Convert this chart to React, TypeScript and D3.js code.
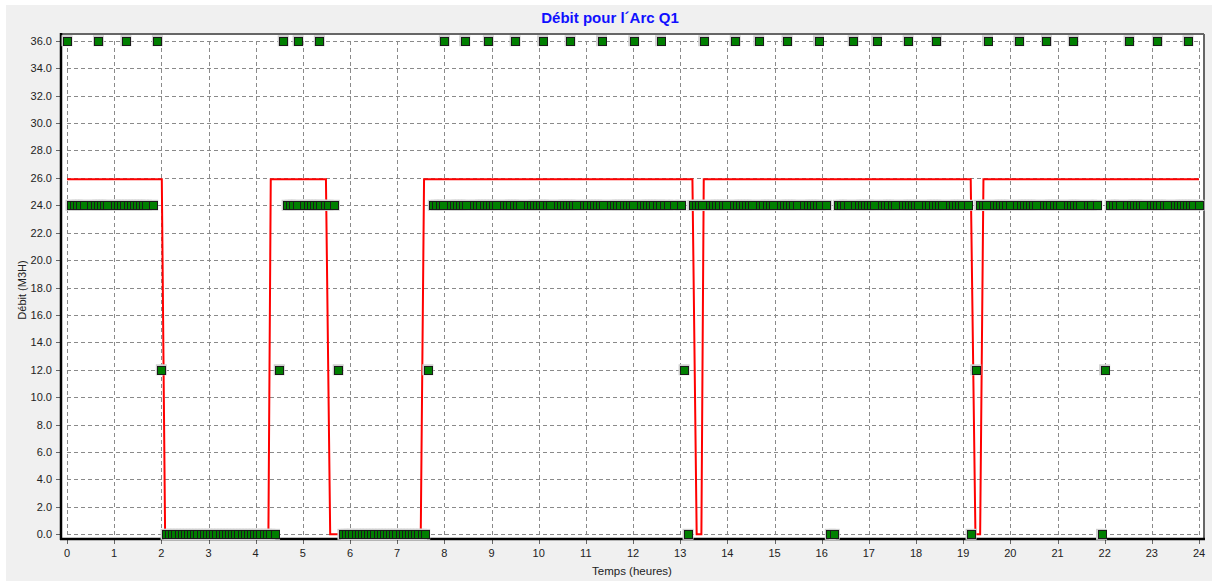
import React from "react";
import * as d3 from "d3";

// ---- data (time in minutes since 0h, values in M3H) ----
const redLine: [number, number][] = [
  [0, 25.9], [2.01, 25.9], [2.08, 0], [4.27, 0], [4.32, 25.9], [5.49, 25.9], [5.58, 0],
  [7.5, 0], [7.57, 25.9], [13.26, 25.9], [13.35, 0], [13.45, 0], [13.5, 25.9],
  [19.16, 25.9], [19.26, 0], [19.36, 0], [19.43, 25.9], [24, 25.9],
];

const pointsAt36 = [
  0, 40, 75, 115, 275, 294, 321, 480, 506, 536, 570, 605, 640, 680, 721, 755, 810, 850,
  880, 916, 956, 1000, 1030, 1070, 1106, 1171, 1211, 1246, 1280, 1351, 1387, 1426,
];

const pointsAt24 = [
  5, 9, 13, 17, 21, 31, 35, 39, 43, 47, 51, 61, 65, 69, 73, 77, 81, 85, 89, 93, 97, 101, 109,
  280, 284, 288, 292, 302, 306, 310, 314, 318, 322, 328, 332, 340,
  466, 470, 474, 478, 488, 492, 496, 500, 504, 508, 518, 522, 526, 530, 534, 538, 542, 546,
  556, 560, 564, 568, 572, 576, 586, 590, 594, 598, 602, 606, 610, 614, 624, 628, 632, 636,
  640, 644, 648, 658, 662, 666, 670, 674, 678, 682, 692, 696, 700, 704, 708, 712, 716, 720,
  730, 734, 738, 742, 746, 750, 754, 760, 764, 772, 781,
  796, 800, 804, 808, 818, 822, 826, 830, 834, 838, 848, 852, 856, 860, 864, 868, 872, 882,
  886, 890, 894, 898, 908, 912, 916, 920, 924, 928, 938, 942, 946, 950, 954, 958, 966,
  981, 985, 989, 993, 1003, 1007, 1011, 1015, 1019, 1023, 1027, 1037, 1041, 1045, 1049, 1053,
  1063, 1067, 1071, 1075, 1079, 1083, 1093, 1097, 1101, 1105, 1109, 1113, 1123, 1127, 1131,
  1135, 1139, 1146,
  1161, 1165, 1169, 1179, 1183, 1187, 1191, 1195, 1199, 1209, 1213, 1217, 1221, 1225, 1229,
  1233, 1243, 1247, 1251, 1255, 1259, 1263, 1273, 1277, 1281, 1285, 1289, 1299, 1303, 1310,
  1327, 1331, 1335, 1339, 1349, 1353, 1357, 1361, 1365, 1369, 1379, 1383, 1387, 1391, 1395,
  1399, 1409, 1413, 1417, 1421, 1425, 1429, 1433, 1440,
];

const pointsAt12 = [120, 270, 345, 459, 785, 1156, 1320];

const pointsAt0 = [
  126, 130, 134, 138, 142, 146, 150, 154, 158, 162, 166, 170, 174, 178, 182, 186, 190, 194,
  198, 202, 206, 210, 214, 218, 222, 226, 230, 234, 238, 242, 246, 250, 254, 258, 264,
  351, 355, 359, 363, 367, 371, 375, 379, 383, 387, 391, 395, 399, 403, 407, 411, 415, 419,
  423, 427, 431, 435, 439, 443, 447, 451, 455,
  790, 971, 976, 1150, 1316,
];

const xTicks = d3.range(0, 25, 1);
const yTicks = d3.range(0, 37, 2);

const titleText = "Débit pour l´Arc Q1";
const xLabel = "Temps (heures)";
const yLabel = "Débit (M3H)";

export default function App() {
  const x = d3.scaleLinear().domain([0, 24]).range([67, 1199]);
  const y = d3.scaleLinear().domain([0, 36]).range([534.3, 40.7]);
  const frame = { l: 61, t: 34, r: 1204, b: 539 };

  const line = d3
    .line<[number, number]>()
    .x((d) => x(d[0]))
    .y((d) => y(d[1]));

  const markers: { t: number; v: number }[] = [];
  pointsAt36.forEach((m) => markers.push({ t: m / 60, v: 36 }));
  pointsAt24.forEach((m) => markers.push({ t: m / 60, v: 24 }));
  pointsAt12.forEach((m) => markers.push({ t: m / 60, v: 12 }));
  pointsAt0.forEach((m) => markers.push({ t: m / 60, v: 0 }));

  const font = "'Liberation Sans', Arial, sans-serif";

  return (
    <svg
      width={1212}
      height={581}
      style={{ position: "absolute", left: 0, top: 0, display: "block" }}
      fontFamily={font}
    >
      <rect x={0} y={0} width={1212} height={581} fill="#ffffff" />
      <rect x={6} y={5} width={1206} height={576} fill="#f0f0f0" />
      <rect
        x={frame.l}
        y={frame.t}
        width={frame.r - frame.l}
        height={frame.b - frame.t}
        fill="#ffffff"
      />
      {/* grid */}
      <g stroke="#8a8a8a" strokeWidth={1} strokeDasharray="4,3" shapeRendering="crispEdges">
        {yTicks.map((v) => (
          <line key={"gy" + v} x1={x(0)} x2={x(24)} y1={Math.round(y(v)) + 0.5} y2={Math.round(y(v)) + 0.5} />
        ))}
        {xTicks.map((t) => (
          <line key={"gx" + t} x1={Math.round(x(t)) + 0.5} x2={Math.round(x(t)) + 0.5} y1={y(36)} y2={frame.b} />
        ))}
      </g>
      {/* ticks */}
      <g stroke="#666" strokeWidth={1} shapeRendering="crispEdges">
        {yTicks.map((v) => (
          <line key={"ty" + v} x1={56} x2={frame.l} y1={Math.round(y(v)) + 0.5} y2={Math.round(y(v)) + 0.5} />
        ))}
        {xTicks.map((t) => (
          <line key={"tx" + t} x1={Math.round(x(t)) + 0.5} x2={Math.round(x(t)) + 0.5} y1={frame.b} y2={frame.b + 5} />
        ))}
      </g>
      {/* frame */}
      <line x1={frame.l} x2={frame.r} y1={frame.t} y2={frame.t} stroke="#666" strokeWidth={2} />
      <line x1={frame.r} x2={frame.r} y1={frame.t} y2={frame.b} stroke="#666" strokeWidth={2} />
      <line x1={frame.l} x2={frame.l} y1={frame.t - 1} y2={frame.b + 1} stroke="#000" strokeWidth={2.5} />
      <line x1={frame.l - 1} x2={frame.r + 1} y1={frame.b} y2={frame.b} stroke="#000" strokeWidth={2.5} />
      {/* red series */}
      <path d={line(redLine) || ""} fill="none" stroke="#ff0000" strokeWidth={2} strokeLinejoin="miter" />
      {/* green markers */}
      <g>
        {markers.map((m, i) => (
          <rect
            key={"h" + i}
            x={x(m.t) - 5.5}
            y={y(m.v) - 5.5}
            width={11}
            height={11}
            fill="#d0d0d0"
          />
        ))}
        {markers.map((m, i) => (
          <rect
            key={"m" + i}
            x={Math.round(x(m.t) - 4) + 0.5}
            y={Math.round(y(m.v) - 4) + 0.5}
            width={8}
            height={8}
            fill="#007f00"
            stroke="#1a1a1a"
            strokeWidth={1}
          />
        ))}
      </g>
      {/* y tick labels */}
      <g fontSize={11} fill="#222" textAnchor="end">
        {yTicks.map((v) => (
          <text key={"ly" + v} x={52} y={y(v) + 4}>
            {v.toFixed(1)}
          </text>
        ))}
      </g>
      {/* x tick labels */}
      <g fontSize={11} fill="#222" textAnchor="middle">
        {xTicks.map((t) => (
          <text key={"lx" + t} x={x(t)} y={557}>
            {t}
          </text>
        ))}
      </g>
      <text x={610} y={23} textAnchor="middle" fontSize={15} fontWeight="bold" fill="#1010ff">
        {titleText}
      </text>
      <text x={632} y={575} textAnchor="middle" fontSize={11.5} fill="#222">
        {xLabel}
      </text>
      <text
        transform="translate(26,290) rotate(-90)"
        textAnchor="middle"
        fontSize={11}
        fill="#222"
      >
        {yLabel}
      </text>
    </svg>
  );
}
